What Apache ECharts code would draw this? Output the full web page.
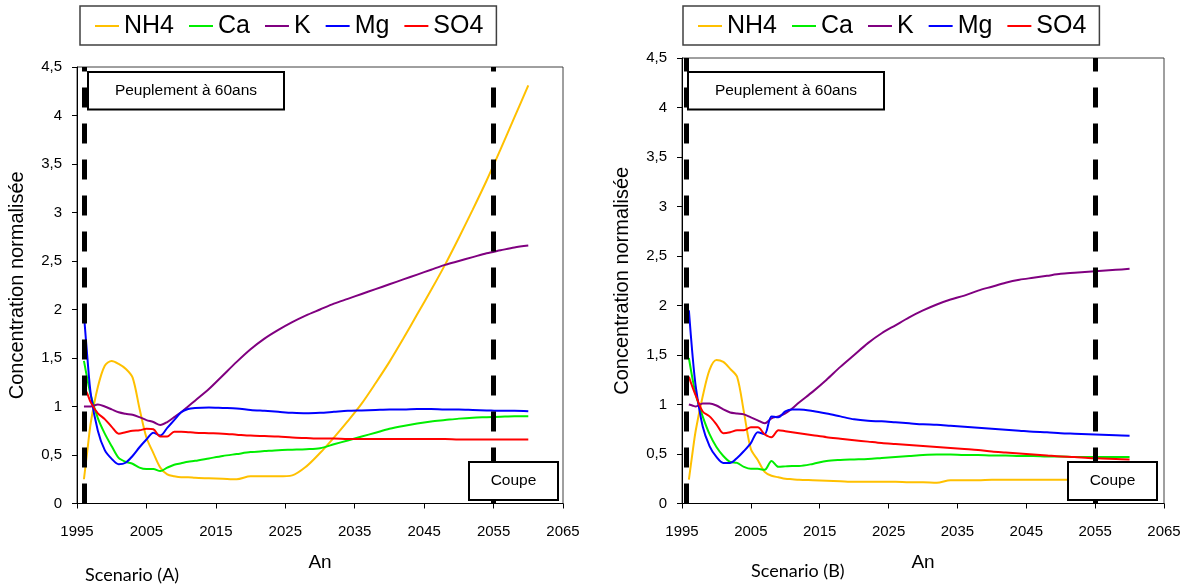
<!DOCTYPE html>
<html>
<head>
<meta charset="utf-8">
<script src="https://cdn.jsdelivr.net/npm/echarts@6/dist/echarts.min.js"></script>
<style>html,body{margin:0;padding:0;background:#fff}#c{width:1190px;height:586px}</style>
</head>
<body>
<div id="c"></div>
<script>
const years = [1996, 1996.5, 1997, 1998, 1999, 2000, 2001, 2002, 2003, 2004, 2005, 2006, 2007, 2008, 2009, 2010, 2011, 2012,
  2014, 2016, 2018, 2020, 2022, 2024, 2026, 2028, 2030, 2032, 2034, 2036, 2038, 2040, 2042, 2044, 2046, 2048, 2050, 2052, 2054, 2056, 2058, 2060];
const seriesNames = ['NH4', 'Ca', 'K', 'Mg', 'SO4'];
const colors = ['#FFC000', '#00EE00', '#800080', '#0000FF', '#FF0000'];

// Scenario (A)
const nh4A = [0.25,0.55,0.84,1.2,1.42,1.47,1.44,1.39,1.30,0.98,0.68,0.52,0.37,0.30,0.28,0.27,0.27,0.265,
  0.26,0.255,0.25,0.28,0.28,0.28,0.29,0.38,0.52,0.68,0.85,1.03,1.24,1.46,1.70,1.95,2.20,2.46,2.74,3.03,3.33,3.65,3.98,4.31];
const caA = [1.47,1.28,1.11,0.88,0.72,0.59,0.47,0.43,0.41,0.37,0.355,0.355,0.335,0.37,0.40,0.415,0.43,0.44,
  0.465,0.49,0.51,0.53,0.54,0.55,0.555,0.56,0.57,0.61,0.65,0.69,0.73,0.77,0.80,0.825,0.845,0.86,0.875,0.885,0.89,0.895,0.9,0.9];
const kA = [1.0,1.0,1.0,1.02,1.0,0.97,0.94,0.925,0.915,0.89,0.86,0.84,0.81,0.84,0.89,0.94,1.0,1.06,
  1.18,1.32,1.46,1.59,1.70,1.79,1.87,1.94,2.0,2.06,2.11,2.16,2.21,2.26,2.31,2.36,2.41,2.46,2.50,2.54,2.58,2.61,2.64,2.66];
const mgA = [1.95,1.5,1.12,0.75,0.55,0.46,0.405,0.42,0.49,0.58,0.66,0.73,0.70,0.78,0.86,0.94,0.975,0.985,
  0.99,0.985,0.98,0.965,0.955,0.945,0.935,0.93,0.935,0.945,0.955,0.96,0.965,0.97,0.97,0.975,0.975,0.97,0.97,0.965,0.96,0.955,0.955,0.95];
const so4A = [1.20,1.13,1.04,0.93,0.87,0.79,0.72,0.735,0.75,0.755,0.77,0.765,0.69,0.69,0.74,0.74,0.735,0.73,
  0.725,0.72,0.71,0.70,0.695,0.69,0.68,0.675,0.67,0.67,0.665,0.665,0.665,0.665,0.665,0.665,0.665,0.665,0.66,0.66,0.66,0.66,0.66,0.66];

// Scenario (B)
const nh4B = [0.24,0.5,0.74,1.08,1.35,1.45,1.43,1.36,1.28,0.92,0.55,0.44,0.32,0.28,0.265,0.25,0.245,0.24,
  0.235,0.23,0.225,0.22,0.22,0.22,0.22,0.215,0.215,0.21,0.235,0.235,0.235,0.24,0.24,0.24,0.24,0.24,0.24,0.24,0.24,0.24,0.24,0.24];
const caB = [1.47,1.27,1.10,0.88,0.70,0.57,0.48,0.42,0.41,0.37,0.35,0.35,0.34,0.43,0.37,0.375,0.38,0.38,
  0.40,0.43,0.44,0.445,0.45,0.46,0.47,0.48,0.49,0.495,0.495,0.49,0.49,0.485,0.485,0.48,0.48,0.475,0.475,0.47,0.47,0.47,0.47,0.47];
const kB = [1.0,0.99,0.98,1.01,1.01,0.99,0.95,0.92,0.91,0.90,0.87,0.84,0.81,0.86,0.88,0.91,0.96,1.02,
  1.13,1.25,1.38,1.50,1.62,1.72,1.80,1.88,1.95,2.01,2.06,2.10,2.15,2.19,2.23,2.26,2.28,2.30,2.32,2.33,2.34,2.35,2.36,2.37];
const mgB = [1.95,1.52,1.18,0.78,0.58,0.47,0.41,0.41,0.46,0.53,0.61,0.72,0.70,0.88,0.87,0.93,0.95,0.95,
  0.935,0.91,0.88,0.85,0.835,0.83,0.82,0.81,0.80,0.795,0.785,0.775,0.765,0.755,0.745,0.735,0.725,0.72,0.71,0.705,0.70,0.695,0.69,0.685];
const so4B = [1.28,1.18,1.09,0.93,0.88,0.80,0.71,0.72,0.74,0.74,0.77,0.77,0.70,0.67,0.74,0.73,0.72,0.71,
  0.69,0.67,0.655,0.64,0.625,0.61,0.60,0.59,0.58,0.57,0.56,0.55,0.54,0.525,0.515,0.505,0.495,0.485,0.475,0.47,0.46,0.455,0.45,0.445];

const cutYearsA = [1996, 2055];
const cutYearsB = [1995.6, 2055];
const xTicks = { min: 1995, max: 2065, interval: 10 };
const yTicks = { min: 0, max: 4.5, interval: 0.5 };

const FONT = 'Liberation Sans, Arial, sans-serif';
const chart = echarts.init(document.getElementById('c'), null, { renderer: 'canvas' });

const gridsPx = [
  { left: 77, top: 67, width: 486, height: 436.5 },
  { left: 682, top: 58, width: 482, height: 445.5 }
];

function xAxisOpt(gi) {
  return {
    type: 'value', gridIndex: gi, min: xTicks.min, max: xTicks.max, interval: xTicks.interval,
    name: 'An', nameLocation: 'middle', nameGap: 50,
    nameTextStyle: { fontSize: 19, color: '#000', fontFamily: FONT },
    axisLine: { show: true, onZero: false, lineStyle: { color: '#000', width: 1 } },
    axisTick: { show: true, inside: false, length: 5, lineStyle: { color: '#000' } },
    axisLabel: { fontSize: 15, color: '#000', margin: 21, fontFamily: FONT, formatter: v => String(v) },
    splitLine: { show: false }
  };
}
function yAxisOpt(gi) {
  return {
    type: 'value', gridIndex: gi, min: yTicks.min, max: yTicks.max, interval: yTicks.interval,
    name: 'Concentration normalisée', nameLocation: 'middle', nameRotate: 90, nameGap: 50,
    nameTextStyle: { fontSize: 20, color: '#000', fontFamily: FONT },
    axisLine: { show: true, lineStyle: { color: '#000', width: 1 } },
    axisTick: { show: true, inside: false, length: 5, lineStyle: { color: '#000' } },
    axisLabel: { fontSize: 15, color: '#000', margin: 15, fontFamily: FONT,
      formatter: v => String(v).replace('.', ',') },
    splitLine: { show: false }
  };
}

const dataA = [nh4A, caA, kA, mgA, so4A];
const dataB = [nh4B, caB, kB, mgB, so4B];
const series = [];
[dataA, dataB].forEach((set, gi) => {
  set.forEach((vals, si) => {
    series.push({
      name: seriesNames[si], type: 'line', xAxisIndex: gi, yAxisIndex: gi,
      data: years.map((y, i) => [y, vals[i]]),
      smooth: 0.3, showSymbol: false, symbol: 'none',
      lineStyle: { color: colors[si], width: 2 }, itemStyle: { color: colors[si] },
      z: 3
    });
  });
  const cuts = gi === 0 ? cutYearsA : cutYearsB;
  series.push({
    type: 'line', xAxisIndex: gi, yAxisIndex: gi, data: [], z: 4,
    markLine: {
      silent: true, symbol: ['none', 'none'], animation: false,
      label: { show: false },
      lineStyle: { color: '#000', width: 5, type: [20, 16] },
      data: cuts.map(c => ({ xAxis: c }))
    }
  });
});

function legendOpt(left) {
  return {
    data: seriesNames, left: left, top: 6, orient: 'horizontal',
    icon: 'rect', itemWidth: 24, itemHeight: 2, itemGap: 15,
    padding: [6, 13, 5, 15],
    borderColor: '#404040', borderWidth: 1.5,
    textStyle: { fontSize: 25, color: '#000', fontFamily: FONT, lineHeight: 28 },
    selectedMode: false
  };
}

function box(left, top, w, h, text) {
  return {
    type: 'group', left: left, top: top, z: 100,
    children: [
      { type: 'rect', shape: { x: 0, y: 0, width: w, height: h }, style: { fill: '#fff', stroke: '#000', lineWidth: 2 }, z: 100 },
      { type: 'text', x: w / 2, y: h / 2, style: { text: text, fill: '#000', font: '15.5px ' + FONT, textAlign: 'center', textVerticalAlign: 'middle' }, z: 101 }
    ]
  };
}

chart.setOption({
  animation: false,
  textStyle: { fontFamily: FONT },
  grid: gridsPx.map(g => Object.assign({ show: true, borderColor: '#404040', borderWidth: 1, backgroundColor: 'transparent', containLabel: false }, g)),
  xAxis: [xAxisOpt(0), xAxisOpt(1)],
  yAxis: [yAxisOpt(0), yAxisOpt(1)],
  legend: [legendOpt(80), legendOpt(683)],
  series: series,
  graphic: [
    box(87, 71, 196, 37.5, 'Peuplement à 60ans'),
    box(687, 71, 196, 37.5, 'Peuplement à 60ans'),
    box(468, 461, 89, 38, 'Coupe'),
    box(1067, 461, 89, 38, 'Coupe'),
    { type: 'text', left: 85, top: 566, z: 100, style: { text: 'Scenario (A)', fill: '#000', font: '18px Lato, sans-serif' } },
    { type: 'text', left: 751, top: 562, z: 100, style: { text: 'Scenario (B)', fill: '#000', font: '18px Lato, sans-serif' } }
  ]
});
</script>
</body>
</html>
